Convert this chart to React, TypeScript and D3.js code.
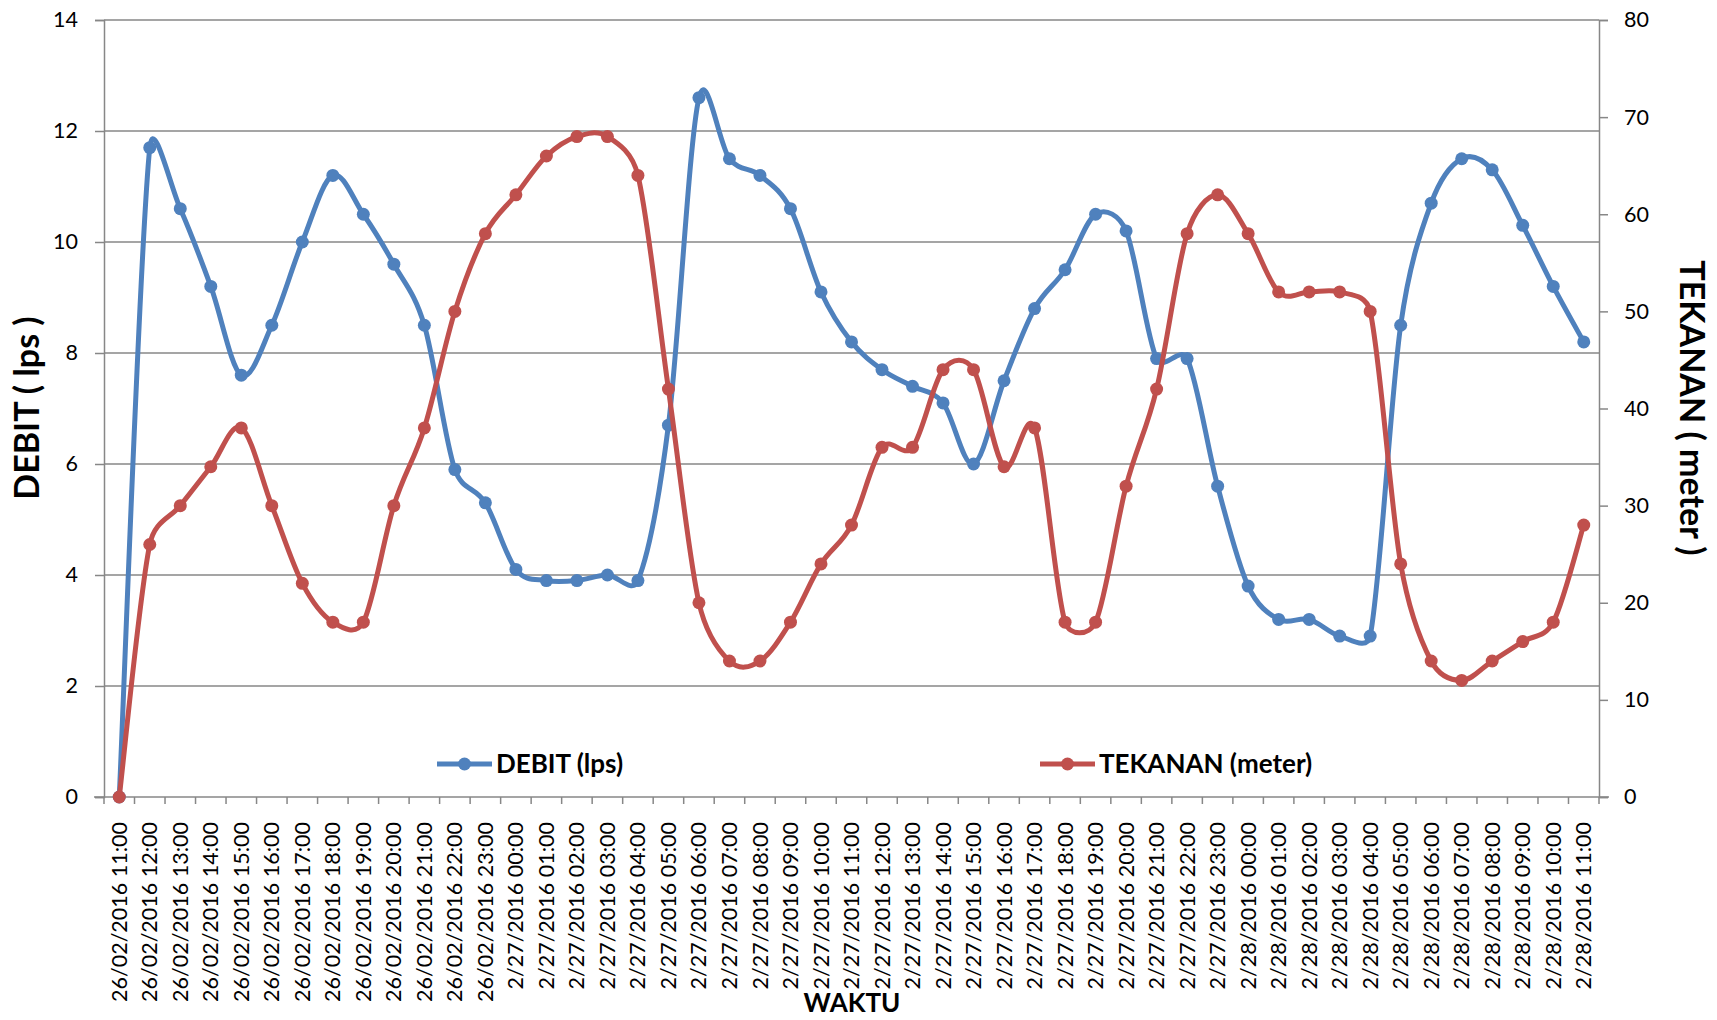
import React, { useEffect, useRef } from 'react'
import * as d3 from 'd3'

const waktu = [
    "26/02/2016 11:00", "26/02/2016 12:00", "26/02/2016 13:00", "26/02/2016 14:00",
    "26/02/2016 15:00", "26/02/2016 16:00", "26/02/2016 17:00", "26/02/2016 18:00",
    "26/02/2016 19:00", "26/02/2016 20:00", "26/02/2016 21:00", "26/02/2016 22:00",
    "26/02/2016 23:00", "2/27/2016 00:00", "2/27/2016 01:00", "2/27/2016 02:00",
    "2/27/2016 03:00", "2/27/2016 04:00", "2/27/2016 05:00", "2/27/2016 06:00",
    "2/27/2016 07:00", "2/27/2016 08:00", "2/27/2016 09:00", "2/27/2016 10:00",
    "2/27/2016 11:00", "2/27/2016 12:00", "2/27/2016 13:00", "2/27/2016 14:00",
    "2/27/2016 15:00", "2/27/2016 16:00", "2/27/2016 17:00", "2/27/2016 18:00",
    "2/27/2016 19:00", "2/27/2016 20:00", "2/27/2016 21:00", "2/27/2016 22:00",
    "2/27/2016 23:00", "2/28/2016 00:00", "2/28/2016 01:00", "2/28/2016 02:00",
    "2/28/2016 03:00", "2/28/2016 04:00", "2/28/2016 05:00", "2/28/2016 06:00",
    "2/28/2016 07:00", "2/28/2016 08:00", "2/28/2016 09:00", "2/28/2016 10:00",
    "2/28/2016 11:00",
]

const debit = [
    0, 11.7, 10.6, 9.2, 7.6, 8.5, 10.0, 11.2, 10.5, 9.6, 8.5, 5.9,
    5.3, 4.1, 3.9, 3.9, 4.0, 3.9, 6.7, 12.6, 11.5, 11.2, 10.6, 9.1,
    8.2, 7.7, 7.4, 7.1, 6.0, 7.5, 8.8, 9.5, 10.5, 10.2, 7.9, 7.9,
    5.6, 3.8, 3.2, 3.2, 2.9, 2.9, 8.5, 10.7, 11.5, 11.3, 10.3, 9.2,
    8.2,
]

const tekanan = [
    0, 26, 30, 34, 38, 30, 22, 18, 18, 30, 38, 50,
    58, 62, 66, 68, 68, 64, 42, 20, 14, 14, 18, 24,
    28, 36, 36, 44, 44, 34, 38, 18, 18, 32, 42, 58,
    62, 58, 52, 52, 52, 50, 24, 14, 12, 14, 16, 18,
    28,
]

const debitTicks = [0, 2, 4, 6, 8, 10, 12, 14]
const tekananTicks = [0, 10, 20, 30, 40, 50, 60, 70, 80]

const BLUE = '#4F81BD'
const RED = '#C0504D'
const GRID = '#878787'
const FONT = 'Lato, "Open Sans", sans-serif'

// smoothed line the way a spreadsheet draws it: cardinal handles, clamped to half a segment
const smoothPath = (pts: [number, number][]) => {
    const dist = (a: [number, number], b: [number, number]) => Math.hypot(b[0] - a[0], b[1] - a[1])
    let d = `M${pts[0][0]},${pts[0][1]}`
    for (let i = 0; i < pts.length - 1; i++) {
        const p0 = pts[i - 1] ?? pts[i]
        const p1 = pts[i]
        const p2 = pts[i + 1]
        const p3 = pts[i + 2] ?? pts[i + 1]
        const d12 = dist(p1, p2)
        const d02 = dist(p0, p2)
        const d13 = dist(p1, p3)
        let f0 = 1 / 6, f1 = 1 / 6
        if (d02 * f0 > d12 / 2) f0 = d12 / (2 * d02)
        if (d13 * f1 > d12 / 2) f1 = d12 / (2 * d13)
        const c1 = [p1[0] + (p2[0] - p0[0]) * f0, p1[1] + (p2[1] - p0[1]) * f0]
        const c2 = [p2[0] - (p3[0] - p1[0]) * f1, p2[1] - (p3[1] - p1[1]) * f1]
        d += `C${c1[0]},${c1[1]},${c2[0]},${c2[1]},${p2[0]},${p2[1]}`
    }
    return d
}

const Chart = () => {
    const svgRef = useRef<SVGSVGElement>(null)

    useEffect(() => {
        drawChart()
    }, [])

    const drawChart = () => {
        const svg: any = d3.select(svgRef.current)
        svg.selectAll('*').remove()

        const left = 104, right = 1599, top = 20, bottom = 797

        const x = d3.scaleBand<string>().domain(waktu).range([left, right]).padding(0)
        const cx = (d: string) => (x(d) as number) + x.bandwidth() / 2
        const yL = d3.scaleLinear([0, 14], [bottom, top])
        const yR = d3.scaleLinear([0, 80], [bottom, top])

        svg.append('rect').attr('width', 1717).attr('height', 1020).attr('fill', 'white')

        // horizontal gridlines from left axis
        svg.append('g')
            .selectAll('line')
            .data(debitTicks.filter(t => t > 0))
            .join('line')
            .attr('x1', left).attr('x2', right)
            .attr('y1', (d: number) => yL(d)).attr('y2', (d: number) => yL(d))
            .attr('stroke', GRID).attr('stroke-width', 1.5)

        // left axis
        const gL = svg.append('g').attr('transform', `translate(${left},0)`)
            .call(d3.axisLeft(yL).tickValues(debitTicks).tickSize(9).tickPadding(17))
        gL.select('.domain').attr('stroke', GRID).attr('stroke-width', 1.5)
        gL.selectAll('.tick line').attr('stroke', GRID).attr('stroke-width', 1.5)
        gL.selectAll('text').attr('font-family', FONT).attr('font-size', 21.5).attr('fill', '#000')

        // right axis
        const gR = svg.append('g').attr('transform', `translate(${right},0)`)
            .call(d3.axisRight(yR).tickValues(tekananTicks).tickSize(9).tickPadding(16))
        gR.select('.domain').attr('stroke', GRID).attr('stroke-width', 1.5)
        gR.selectAll('.tick line').attr('stroke', GRID).attr('stroke-width', 1.5)
        gR.selectAll('text').attr('font-family', FONT).attr('font-size', 21.5).attr('fill', '#000')

        // x axis with ticks on category boundaries
        const gX = svg.append('g')
        gX.append('line')
            .attr('x1', left - 10).attr('x2', right + 10)
            .attr('y1', bottom).attr('y2', bottom)
            .attr('stroke', GRID).attr('stroke-width', 1.5)
        gX.selectAll('.xt')
            .data([...waktu, null])
            .join('line')
            .attr('class', 'xt')
            .attr('x1', (d: string | null) => d === null ? right : (x(d) as number))
            .attr('x2', (d: string | null) => d === null ? right : (x(d) as number))
            .attr('y1', bottom).attr('y2', bottom + 7)
            .attr('stroke', GRID).attr('stroke-width', 1.5)
        gX.selectAll('.xl')
            .data(waktu)
            .join('text')
            .attr('class', 'xl')
            .attr('transform', (d: string) => `translate(${cx(d)},822) rotate(-90)`)
            .attr('text-anchor', 'end')
            .attr('dy', '0.35em')
            .attr('font-family', FONT).attr('font-size', 21.5)
            .text((d: string) => d)

        // series
        const series = [
            { name: 'DEBIT (lps)', values: debit, y: yL, color: BLUE },
            { name: 'TEKANAN (meter)', values: tekanan, y: yR, color: RED },
        ]
        series.forEach(s => {
            const pts = s.values.map((v, i) => [cx(waktu[i]), s.y(v)] as [number, number])
            const g = svg.append('g')
            g.append('path')
                .attr('d', smoothPath(pts))
                .attr('fill', 'none')
                .attr('stroke', s.color)
                .attr('stroke-width', 5)
                .attr('stroke-linejoin', 'round')
            g.selectAll('circle')
                .data(s.values)
                .join('circle')
                .attr('cx', (_: number, i: number) => cx(waktu[i]))
                .attr('cy', (d: number) => s.y(d))
                .attr('r', 6.5)
                .attr('fill', s.color)
        })

        // legend
        const legend = [
            { name: 'DEBIT (lps)', color: BLUE, x: 437 },
            { name: 'TEKANAN (meter)', color: RED, x: 1040 },
        ]
        legend.forEach(l => {
            const g = svg.append('g').attr('transform', `translate(${l.x},764)`)
            g.append('line').attr('x1', 0).attr('x2', 55).attr('stroke', l.color).attr('stroke-width', 5)
            g.append('circle').attr('cx', 27.5).attr('r', 6.5).attr('fill', l.color)
            g.append('text')
                .attr('x', 59).attr('dy', '0.35em')
                .attr('font-family', FONT).attr('font-size', 26).attr('font-weight', 'bold')
                .text(l.name)
        })

        // axis titles
        svg.append('text')
            .attr('transform', `translate(39,408) rotate(-90)`)
            .attr('text-anchor', 'middle')
            .attr('font-family', FONT).attr('font-size', 34).attr('font-weight', 'bold')
            .text('DEBIT ( lps )')
        svg.append('text')
            .attr('transform', `translate(1680,408) rotate(90)`)
            .attr('text-anchor', 'middle')
            .attr('font-family', FONT).attr('font-size', 34).attr('font-weight', 'bold')
            .text('TEKANAN ( meter )')
        svg.append('text')
            .attr('x', 852).attr('y', 1012)
            .attr('text-anchor', 'middle')
            .attr('font-family', FONT).attr('font-size', 26).attr('font-weight', 'bold')
            .text('WAKTU')
    }

    return (
        <div style={{ position: 'absolute', left: 0, top: 0 }}>
            <svg ref={svgRef} width={1717} height={1020} style={{ display: 'block' }}></svg>
        </div>
    )
}

export default function App() {
    return <Chart />
}
